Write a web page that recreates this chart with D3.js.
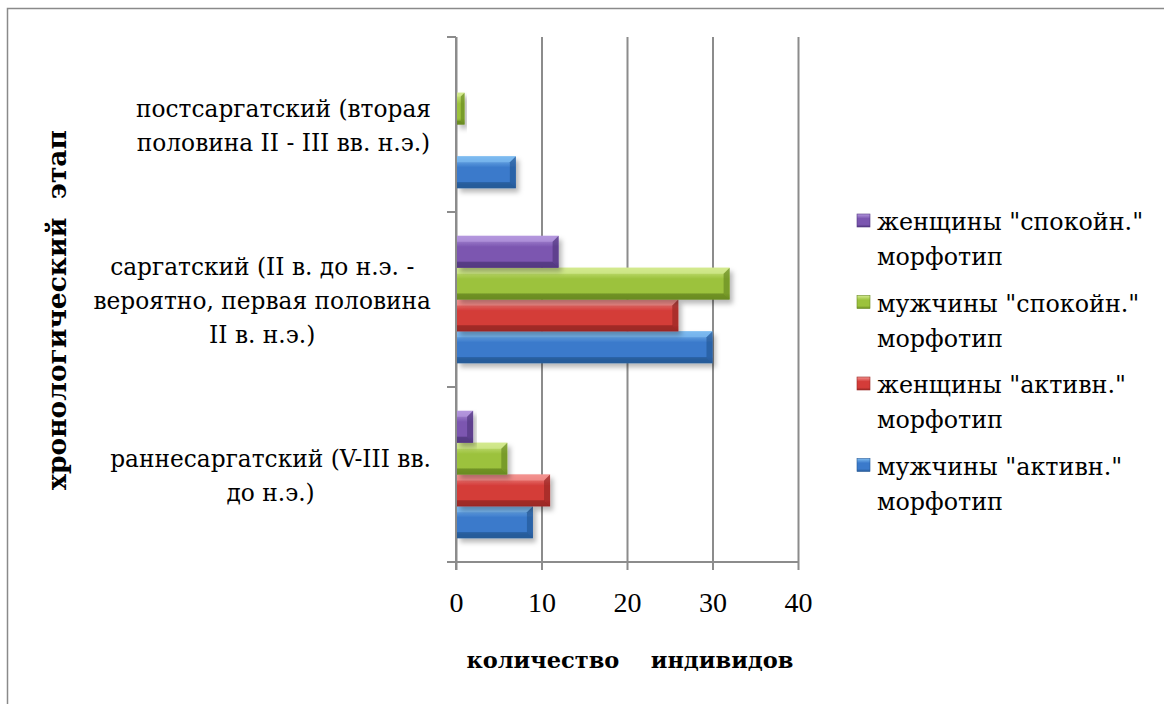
<!DOCTYPE html>
<html>
<head>
<meta charset="utf-8">
<script src="https://cdn.jsdelivr.net/npm/d3@7"></script>
<style>
  html, body { margin: 0; padding: 0; background: #fff; }
  svg { display: block; }
  text { font-family: "DejaVu Serif", "Noto Serif", "Liberation Serif", serif; fill: #000; }
</style>
</head>
<body>
<svg id="chart" width="1164" height="704"></svg>
<script>
// ---- data ----
const categories = ["постсаргатский (вторая половина II - III вв. н.э.)",
                    "саргатский (II в. до н.э. - вероятно, первая половина II в. н.э.)",
                    "раннесаргатский (V-III вв. до н.э.)"];
const categoryLines = [["постсаргатский (вторая", "половина II - III вв. н.э.)"],
                       ["саргатский (II в. до н.э. -", "вероятно, первая половина", "II в. н.э.)"],
                       ["раннесаргатский (V-III вв.", "до н.э.)"]];
const seriesNames = ["мужчины \"активн.\" морфотип", "женщины \"активн.\" морфотип",
                     "мужчины \"спокойн.\" морфотип", "женщины \"спокойн.\" морфотип"];
const menActive   = [7, 30, 9];
const womenActive = [0, 26, 11];
const menCalm     = [1, 32, 6];
const womenCalm   = [0, 12, 2];
const xTicks = [0, 10, 20, 30, 40];
const xTitle = "количество    индивидов";
const yTitle = "хронологический  этап";

const seriesValues = [menActive, womenActive, menCalm, womenCalm];
const palette = [
  {base: "#3b7acb", light: "#7dbbf0", dark: "#275a98"},
  {base: "#d43c39", light: "#f39390", dark: "#9a2825"},
  {base: "#9cc23d", light: "#d3ea8f", dark: "#6a8b22"},
  {base: "#7b56b0", light: "#b497de", dark: "#533880"}
];
const TICKFONT = "'Liberation Serif', 'Times New Roman', serif";

const svg = d3.select("#chart");
const defs = svg.append("defs");

// frame
svg.append("rect").attr("x", 7.5).attr("y", 8.5).attr("width", 1200).attr("height", 800)
  .attr("fill", "none").attr("stroke", "#8a8a8a").attr("stroke-width", 1.5);

const pLeft = 456, pRight = 798, pTop = 37, pBottom = 562;
const x = d3.scaleLinear().domain([0, 40]).range([pLeft, pRight]);
const y = d3.scaleBand().domain(categories).range([pTop, pBottom]).padding(0);
const seriesTopDown = d3.range(seriesNames.length).reverse();
const yInner = d3.scaleBand().domain(seriesTopDown).range([0, y.bandwidth()])
  .paddingInner(0).paddingOuter(0.75);

// gradients & shadow
palette.forEach((c, i) => {
  const g = defs.append("linearGradient").attr("id", "grad" + i)
    .attr("x1", 0).attr("y1", 0).attr("x2", 0).attr("y2", 1);
  g.append("stop").attr("offset", "0%").attr("stop-color", c.light);
  g.append("stop").attr("offset", "35%").attr("stop-color", c.base);
  g.append("stop").attr("offset", "80%").attr("stop-color", c.base);
  g.append("stop").attr("offset", "100%").attr("stop-color", c.dark);
});
const f = defs.append("filter").attr("id", "shadow").attr("x", "-10%").attr("y", "-20%")
  .attr("width", "130%").attr("height", "160%");
f.append("feDropShadow").attr("dx", 3).attr("dy", 4).attr("stdDeviation", 2.5)
  .attr("flood-color", "#000").attr("flood-opacity", 0.28);

// gridlines (extend below axis as ticks)
const gridG = svg.append("g").attr("transform", `translate(0,${pBottom + 8})`)
  .call(d3.axisBottom(x).tickValues(xTicks).tickSize(-(pBottom + 8 - pTop)).tickPadding(22)
    .tickFormat(d3.format("d")));
gridG.select(".domain").remove();
gridG.selectAll(".tick line").attr("stroke", "#8c8c8c").attr("stroke-width", 2);
gridG.selectAll(".tick text").style("font-size", "28px").style("font-family", TICKFONT).attr("fill", "#000");

// axes lines
svg.append("line").attr("x1", pLeft).attr("x2", pRight).attr("y1", pBottom).attr("y2", pBottom)
  .attr("stroke", "#8c8c8c").attr("stroke-width", 2);
svg.append("line").attr("x1", pLeft).attr("x2", pLeft).attr("y1", pTop).attr("y2", pBottom + 8)
  .attr("stroke", "#8c8c8c").attr("stroke-width", 2);
const boundaries = categories.map(c => y(c)).concat([y(categories[categories.length - 1]) + y.bandwidth()]);
svg.selectAll("line.ytick").data(boundaries).enter().append("line").attr("class", "ytick")
  .attr("x1", pLeft - 9).attr("x2", pLeft).attr("y1", d => d).attr("y2", d => d)
  .attr("stroke", "#8c8c8c").attr("stroke-width", 2);

// bars
const barsG = svg.append("g");
seriesValues.forEach((vals, si) => {
  const c = palette[si];
  categories.forEach((cat, ci) => {
    const v = vals[ci];
    if (!v) return;
    const x0 = x(0) + 1, x1 = x(v);
    const y0 = y(cat) + yInner(si), h = yInner.bandwidth(), y1 = y0 + h;
    const b = Math.min(6, (x1 - x0) / 2);
    const g = barsG.append("g").attr("filter", "url(#shadow)");
    g.append("rect").attr("x", x0).attr("y", y0).attr("width", x1 - x0).attr("height", h)
      .attr("fill", `url(#grad${si})`);
    g.append("polygon").attr("points", [[x0, y0], [x1, y0], [x1 - b, y0 + b], [x0, y0 + b]].join(" "))
      .attr("fill", c.light).attr("opacity", 0.75);
    g.append("polygon").attr("points", [[x0, y1], [x1, y1], [x1 - b, y1 - b], [x0, y1 - b]].join(" "))
      .attr("fill", c.dark).attr("opacity", 0.85);
    g.append("polygon").attr("points", [[x1, y0], [x1, y1], [x1 - b, y1 - b], [x1 - b, y0 + b]].join(" "))
      .attr("fill", c.dark).attr("opacity", 0.7);
  });
});

// category labels
const lineH = 34;
categories.forEach((cat, ci) => {
  const lines = categoryLines[ci];
  const cy = y(cat) + y.bandwidth() / 2;
  const firstBase = cy - (lines.length - 1) * lineH / 2 + 9;
  const t = svg.append("g");
  const texts = lines.map((ln, li) => t.append("text").attr("y", firstBase + li * lineH)
    .style("font-size", "23.3px").attr("text-anchor", "middle").text(ln));
  const maxW = d3.max(texts, tx => tx.node().getComputedTextLength());
  texts.forEach(tx => tx.attr("x", 431 - maxW / 2));
});

// legend
const legendTop = 230, legendStep = 81.5;
seriesTopDown.forEach((si, k) => {
  const c = palette[si];
  const by = legendTop + k * legendStep;
  const name = seriesNames[si];
  const cut = name.lastIndexOf(" ");
  const g = svg.append("g");
  g.append("rect").attr("x", 857).attr("y", by - 16).attr("width", 13).attr("height", 13)
    .attr("fill", `url(#grad${si})`).attr("stroke", c.dark).attr("stroke-width", 0.6);
  g.append("text").attr("x", 877).attr("y", by).style("font-size", "23.8px").text(name.slice(0, cut));
  g.append("text").attr("x", 877).attr("y", by + 35).style("font-size", "23.8px").text(name.slice(cut + 1));
});

// axis titles
svg.append("text").attr("x", 630).attr("y", 668).attr("text-anchor", "middle")
  .style("font-size", "22.5px").style("font-weight", "bold").style("white-space", "pre").text(xTitle);
svg.append("text").attr("transform", "translate(66,310) rotate(-90)").attr("text-anchor", "middle")
  .style("font-size", "26.5px").style("font-weight", "bold").style("white-space", "pre").text(yTitle);
</script>
</body>
</html>
